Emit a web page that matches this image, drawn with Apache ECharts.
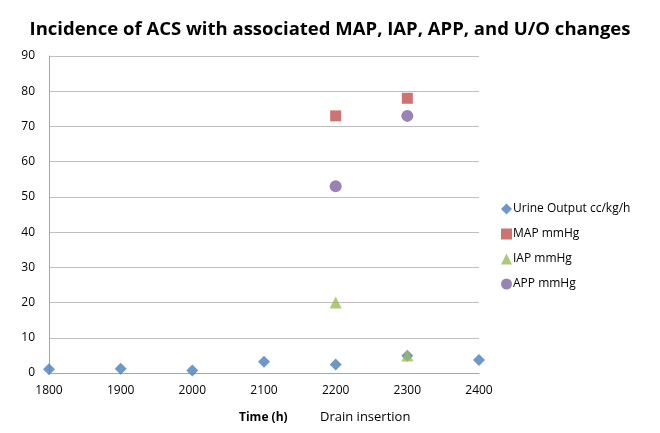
<!DOCTYPE html>
<html><head><meta charset="utf-8">
<script src="https://cdn.jsdelivr.net/npm/echarts@6/dist/echarts.min.js"></script>
<style>html,body{margin:0;padding:0;background:#fff}#c{width:660px;height:433px}</style>
</head><body><div id="c"></div>
<script>
const hours = [1800, 1900, 2000, 2100, 2200, 2300, 2400];
const urineOutput = [1.1, 1.2, 0.7, 3.2, 2.4, 4.9, 3.7];
const mapHours = [2200, 2300];
const mapValues = [73, 78];
const iapValues = [20, 5];
const appValues = [53, 73];
const yTicks = [0, 10, 20, 30, 40, 50, 60, 70, 80, 90];
const seriesNames = ['Urine Output cc/kg/h', 'MAP mmHg', 'IAP mmHg', 'APP mmHg'];
const colors = ['#4A7EBB', '#C0504D', '#9BBB59', '#8064A2'];
const FONT = 'Open Sans';

const chart = echarts.init(document.getElementById('c'));
chart.setOption({
  animation: false,
  title: {
    text: 'Incidence of ACS with associated MAP, IAP, APP, and U/O changes',
    left: 'center', top: 15,
    textStyle: {fontFamily: FONT, fontWeight: 'bold', fontSize: 18.5, color: '#000'}
  },
  grid: {left: 49, right: 181, top: 56, bottom: 60},
  legend: {
    orient: 'vertical', left: 496, top: 198, itemGap: 13,
    itemWidth: 11, itemHeight: 11,
    textStyle: {fontFamily: FONT, fontSize: 12, color: '#000', padding: [0, 0, 2, -4]},
    data: seriesNames
  },
  xAxis: {
    type: 'value', min: 1800, max: 2400, interval: 100,
    axisLine: {show: true, lineStyle: {color: '#A6A6A6'}},
    axisTick: {show: false},
    splitLine: {show: false},
    axisLabel: {fontFamily: FONT, fontSize: 12, color: '#000', margin: 12, formatter: v => String(v)}
  },
  yAxis: {
    type: 'value', min: yTicks[0], max: yTicks[yTicks.length - 1], interval: 10,
    axisLine: {show: true, lineStyle: {color: '#A6A6A6'}},
    axisTick: {show: false},
    splitLine: {show: true, lineStyle: {color: '#BFBFBF', width: 1}},
    axisLabel: {fontFamily: FONT, fontSize: 12, color: '#000', margin: 14}
  },
  graphic: [
    {type: 'text', left: 239, top: 412, style: {text: 'Time (h)', font: 'bold 12px "Open Sans"', fill: '#000'}},
    {type: 'text', left: 320, top: 411, style: {text: 'Drain insertion', font: '13px "Open Sans"', fill: '#000'}}
  ],
  series: [
    {name: seriesNames[0], type: 'scatter', symbol: 'diamond', symbolSize: 12,
     itemStyle: {color: colors[0]}, data: hours.map((h, i) => [h, urineOutput[i]])},
    {name: seriesNames[1], type: 'scatter', symbol: 'rect', symbolSize: 11,
     itemStyle: {color: colors[1]}, data: mapHours.map((h, i) => [h, mapValues[i]])},
    {name: seriesNames[2], type: 'scatter', symbol: 'triangle', symbolSize: 12,
     itemStyle: {color: colors[2]}, data: mapHours.map((h, i) => [h, iapValues[i]])},
    {name: seriesNames[3], type: 'scatter', symbol: 'circle', symbolSize: 12,
     itemStyle: {color: colors[3]}, data: mapHours.map((h, i) => [h, appValues[i]])}
  ]
});
</script></body></html>
